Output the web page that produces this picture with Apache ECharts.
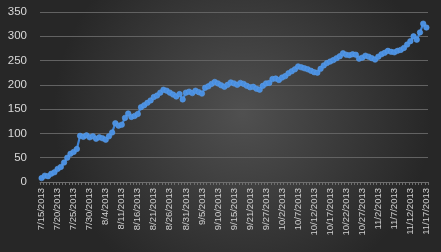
<!DOCTYPE html>
<html><head><meta charset="utf-8">
<script src="https://cdn.jsdelivr.net/npm/echarts@6/dist/echarts.min.js"></script>
<style>html,body{margin:0;padding:0;background:#333;}#c{width:441px;height:252px;}</style>
</head><body><div id="c"></div>
<script>
// labelled dates (every 5th point)
const tickDates = ["7/15/2013","7/20/2013","7/25/2013","7/30/2013","8/4/2013","8/11/2013","8/16/2013","8/21/2013","8/26/2013","8/31/2013","9/5/2013","9/10/2013","9/15/2013","9/21/2013","9/27/2013","10/2/2013","10/7/2013","10/12/2013","10/17/2013","10/22/2013","10/27/2013","11/2/2013","11/7/2013","11/12/2013","11/17/2013"];
const values = [8,13,12,17,20,27,31,40,50,58,62,68,95,93,96,92,94,89,92,90,87,94,102,121,116,118,132,141,134,136,140,154,158,163,168,175,178,184,190,188,184,180,176,181,170,184,186,183,188,185,182,194,197,202,206,203,199,196,200,205,203,200,204,202,198,195,196,192,190,198,203,204,212,213,210,215,218,224,228,232,238,236,234,232,229,226,225,233,240,245,248,251,255,259,265,262,261,263,262,254,256,260,258,255,252,258,263,266,270,268,267,270,272,276,283,290,300,293,308,326,318];
const yTicks = [0,50,100,150,200,250,300,350];

// build daily category list: each labelled date followed by 4 following days
const categories = [];
tickDates.forEach((d, k) => {
  categories.push(d);
  if (k < tickDates.length - 1) {
    const [m, dd, y] = d.split('/').map(Number);
    for (let j = 1; j <= 4; j++) {
      const dt = new Date(y, m - 1, dd + j);
      categories.push((dt.getMonth() + 1) + '/' + dt.getDate() + '/' + dt.getFullYear());
    }
  }
});

const chart = echarts.init(document.getElementById('c'), null, {renderer: 'canvas'});
chart.setOption({
  animation: false,
  backgroundColor: {
    type: 'radial', x: 0.55, y: 0.45, r: 0.75,
    colorStops: [{offset: 0, color: '#505050'}, {offset: 1, color: '#272727'}]
  },
  grid: {left: 40, right: 13, top: 12, bottom: 70, containLabel: false},
  xAxis: {
    type: 'category', data: categories, boundaryGap: true,
    axisLine: {lineStyle: {color: '#6e6e6e', width: 1}},
    axisTick: {show: true, interval: 0, length: 3, lineStyle: {color: '#6e6e6e'}},
    axisLabel: {interval: 4, rotate: 90, color: '#d0d0d0', fontSize: 9.5, fontFamily: 'Liberation Sans, Arial, sans-serif', margin: 6}
  },
  yAxis: {
    type: 'value', min: yTicks[0], max: yTicks[yTicks.length - 1], interval: 50,
    axisLine: {show: false}, axisTick: {show: false},
    splitLine: {lineStyle: {color: '#626262', width: 1}},
    axisLabel: {color: '#d9d9d9', fontSize: 11.5, fontFamily: 'Liberation Sans, Arial, sans-serif', margin: 13}
  },
  series: [{
    type: 'line', data: values,
    symbol: 'circle', symbolSize: 5.5, showSymbol: true, showAllSymbol: true,
    lineStyle: {color: '#3f84d6', width: 2.2},
    itemStyle: {color: '#4a8fe0', borderColor: '#5c9de8', borderWidth: 0.6}
  }]
});
</script></body></html>
